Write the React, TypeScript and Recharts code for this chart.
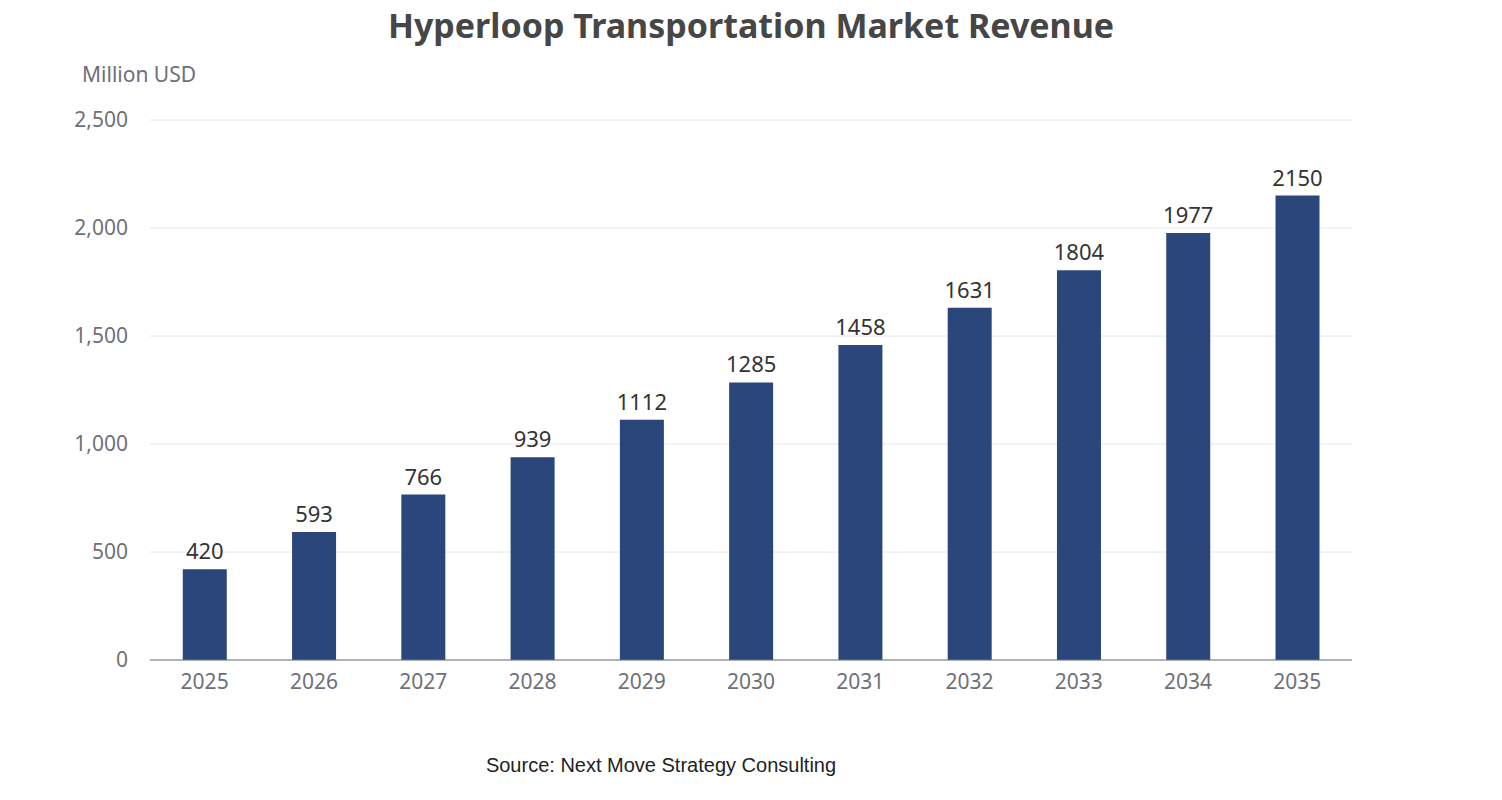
import { BarChart, Bar, XAxis, YAxis, CartesianGrid, LabelList } from "recharts";

const years = ["2025", "2026", "2027", "2028", "2029", "2030", "2031", "2032", "2033", "2034", "2035"];
const revenue = [420, 593, 766, 939, 1112, 1285, 1458, 1631, 1804, 1977, 2150];
const yTicks = [0, 500, 1000, 1500, 2000, 2500];

const data = years.map((year, i) => ({ year, revenue: revenue[i] }));
const font = "'Microsoft YaHei', 'Noto Sans', sans-serif";

export default function App() {
  return (
    <div style={{ position: "absolute", left: 0, top: 0, width: 1502, height: 800, background: "#fff", fontFamily: font }}>
      <div style={{ position: "absolute", top: 2, width: 1502, textAlign: "center", fontSize: 34, fontWeight: 700, color: "#464646" }}>
        Hyperloop Transportation Market Revenue
      </div>
      <div style={{ position: "absolute", top: 60, left: 82, fontSize: 21, color: "#6e7079" }}>Million USD</div>
      <BarChart width={1502} height={800} data={data} margin={{ top: 120, right: 150, bottom: 100, left: 60 }} barCategoryGap="30%">
        <CartesianGrid vertical={false} stroke="#e0e6f1" />
        <XAxis
          dataKey="year"
          height={40}
          axisLine={{ stroke: "#6e7079" }}
          tickLine={false}
          tick={{ fill: "#6e7079", fontSize: 21, fontFamily: font }}
          tickMargin={8}
        />
        <YAxis
          width={90}
          domain={[0, 2500]}
          ticks={yTicks}
          axisLine={false}
          tickLine={false}
          tickMargin={16}
          tickFormatter={(v: number) => v.toLocaleString("en-US")}
          tick={{ fill: "#6e7079", fontSize: 21, fontFamily: font }}
        />
        <Bar dataKey="revenue" fill="#2b467a" isAnimationActive={false}>
          <LabelList dataKey="revenue" position="top" offset={10} fill="#333" fontSize={22} fontFamily={font} />
        </Bar>
      </BarChart>
      <div style={{ position: "absolute", top: 754, width: 1322, textAlign: "center", fontSize: 20, color: "#222", fontFamily: "Arial, 'Liberation Sans', sans-serif" }}>
        Source: Next Move Strategy Consulting
      </div>
    </div>
  );
}
